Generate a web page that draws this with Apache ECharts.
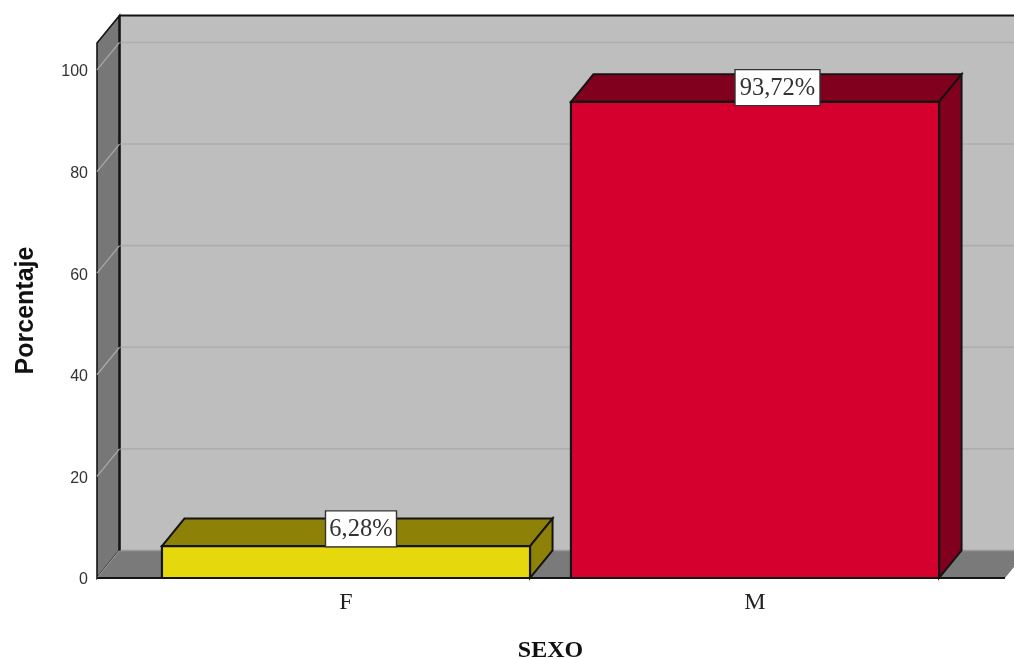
<!DOCTYPE html>
<html>
<head>
<meta charset="utf-8">
<style>html,body{margin:0;padding:0;background:#fff}#c{width:1014px;height:659px}</style>
<script src="https://cdn.jsdelivr.net/npm/echarts@6/dist/echarts.min.js"></script>
</head>
<body>
<div id="c"></div>
<script>
const categories = ['F', 'M'];
const percentages = [6.28, 93.72];
const yTicks = [20, 40, 60, 80, 100];
const frontColors = ['#E5D80C', '#D6002F'];
const shadeColors = ['#8D8207', '#81001E'];

const DX = 22.5, DY = -27.5, AXIS_OUT = 44.5, FLOOR_OUT = 45.5, INK = '#141414';
const LABEL_NUDGE = [[-7.5, -3], [0, 0]];

function poly(points, fill, stroke, lineWidth) {
  return { type: 'polygon', shape: { points }, silent: true,
    style: { fill, stroke: stroke || 'none', lineWidth: lineWidth || 0, lineJoin: 'miter' } };
}
function seg(x1, y1, x2, y2, stroke, lineWidth) {
  return { type: 'line', shape: { x1, y1, x2, y2 }, silent: true, style: { stroke, lineWidth } };
}

function renderWalls(params, api) {
  const cs = params.coordSys;
  const y0 = cs.y + cs.height, yTop = cs.y;
  const xL = cs.x - AXIS_OUT, xR = cs.x + cs.width + FLOOR_OUT;
  const bx = xL + DX, by = y0 + DY, tby = yTop + DY;
  return { type: 'group', children: [
    poly([[bx, tby], [xR + 40, tby], [xR + 40, by], [bx, by]], '#BEBEBE'),
    poly([[xL, yTop], [bx, tby], [bx, by], [xL, y0]], '#777777', INK, 1.6),
    poly([[xL, y0], [bx, by], [xR + DX, by], [xR, y0]], '#7A7A7A'),
    seg(bx, by, xR + DX, by, '#9A9A9A', 1.5),
    seg(xL, y0, bx, by, '#A5A5A5', 1),
    seg(bx, tby, xR + 40, tby, INK, 1.8),
    seg(bx, tby, bx, by, INK, 2.4),
    seg(xL, y0, xR, y0, INK, 2.2)
  ]};
}

function renderGrid(params, api) {
  const cs = params.coordSys;
  const y = api.coord([0, api.value(1)])[1];
  const xL = cs.x - AXIS_OUT, bx = xL + DX;
  return { type: 'group', children: [
    seg(xL, y, bx, y + DY, '#A8A8A8', 1.3),
    seg(bx + 1, y + DY, cs.x + cs.width + 100, y + DY, '#AEAEAE', 1.6)
  ]};
}

function renderBar(params, api) {
  const i = api.value(0), v = api.value(1);
  const c = api.coord([i, v]), base = api.coord([i, 0]);
  const w = api.size([1, 0])[0] * 0.9;
  const l = c[0] - w / 2, r = c[0] + w / 2, t = c[1], b = base[1];
  const text = v.toFixed(2).replace('.', ',') + '%';
  const boxW = text.length * 14 + 1, boxH = 36;
  const cx = c[0] + DX + LABEL_NUDGE[i][0], cy = t + DY / 2 - 0.5 + LABEL_NUDGE[i][1];
  return { type: 'group', children: [
    poly([[l, t], [l + DX, t + DY], [r + DX, t + DY], [r, t]], shadeColors[i], INK, 2),
    poly([[r, t], [r + DX, t + DY], [r + DX, b + DY], [r, b]], shadeColors[i], INK, 2),
    poly([[l, t], [r, t], [r, b], [l, b]], frontColors[i], INK, 2.2),
    { type: 'rect', silent: true, shape: { x: cx - boxW / 2, y: cy - boxH / 2, width: boxW, height: boxH },
      style: { fill: '#fff', stroke: '#333', lineWidth: 1.4 } },
    { type: 'text', silent: true, x: cx, y: cy + 1,
      style: { text, fill: '#333', font: '24.5px "Liberation Serif"', align: 'center', verticalAlign: 'middle' } }
  ]};
}

const chart = echarts.init(document.getElementById('c'), null, { renderer: 'canvas' });
chart.setOption({
  animation: false,
  backgroundColor: '#fff',
  grid: { left: 141.5, width: 818, top: 43, height: 535, outerBoundsMode: 'none' },
  xAxis: {
    type: 'category', data: categories,
    axisLine: { show: false }, axisTick: { show: false }, splitLine: { show: false },
    axisLabel: { margin: 13, color: '#222', fontFamily: 'Liberation Serif', fontSize: 24 },
    name: 'SEXO', nameLocation: 'middle', nameGap: 61,
    nameTextStyle: { color: '#111', fontFamily: 'Liberation Serif', fontWeight: 'bold', fontSize: 24 }
  },
  yAxis: {
    type: 'value', min: 0, max: 105.3, interval: 20, offset: AXIS_OUT,
    axisLine: { show: false }, axisTick: { show: false }, splitLine: { show: false },
    axisLabel: { margin: 9, color: '#333', fontFamily: 'Liberation Sans', fontSize: 16, showMaxLabel: false,
      formatter: '{t|{value}}', rich: { t: { padding: [4, 0, 0, 0], fontFamily: 'Liberation Sans', fontSize: 16, color: '#333' } } },
    name: 'Porcentaje', nameLocation: 'middle', nameGap: 58,
    nameTextStyle: { color: '#111', fontFamily: 'Liberation Sans', fontWeight: 'bold', fontSize: 25 }
  },
  series: [
    { type: 'custom', z: 1, renderItem: renderWalls, data: [[0, 0]], encode: { x: 0, y: 1 }, silent: true, clip: false },
    { type: 'custom', z: 2, renderItem: renderGrid, data: yTicks.map(t => [0, t]), encode: { x: 0, y: 1 }, silent: true, clip: false },
    { type: 'custom', z: 3, renderItem: renderBar, data: percentages.map((v, i) => [i, v]), encode: { x: 0, y: 1 }, silent: true, clip: false }
  ]
});
</script>
</body>
</html>
